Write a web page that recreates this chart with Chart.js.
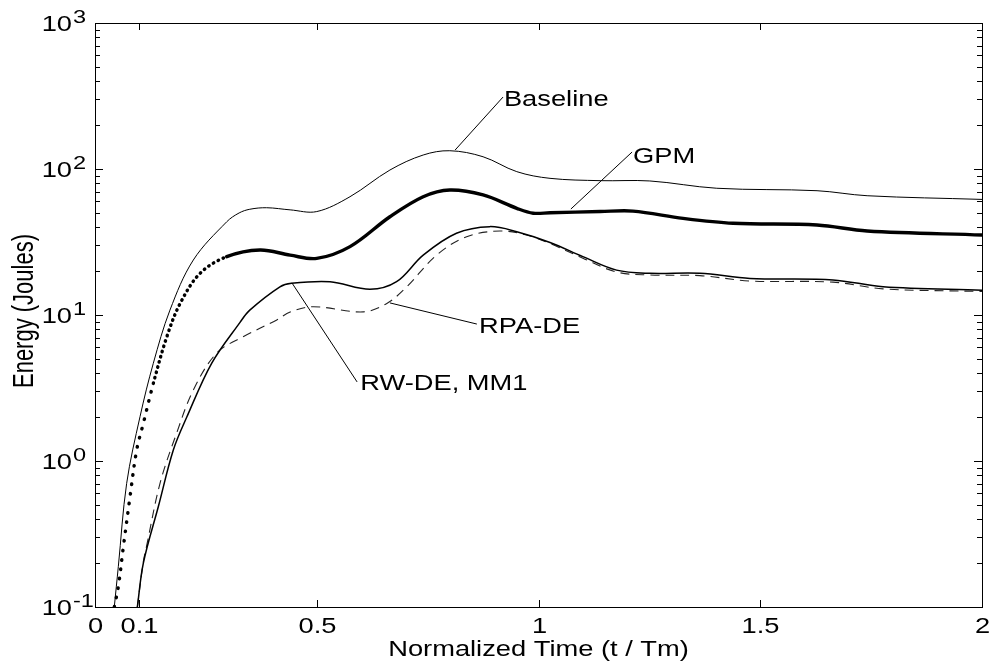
<!DOCTYPE html>
<html>
<head>
<meta charset="utf-8">
<title>Energy vs normalized time</title>
<script src="https://cdn.jsdelivr.net/npm/chart.js@4.4.1/dist/chart.umd.min.js"></script>
<style>
  body { margin: 0; background: #fff; }
  canvas { display: block; }
</style>
</head>
<body>
<canvas id="energyChart" width="992" height="669"></canvas>
<script>
// values (t / Tm, Joules)
const baselineT = [0.0435, 0.0526, 0.0714, 0.1015, 0.1315, 0.169, 0.2217, 0.297, 0.325, 0.349, 0.387, 0.44, 0.5, 0.575, 0.665, 0.74, 0.80, 0.875, 0.951, 1.026, 1.139, 1.251, 1.402, 1.628, 1.741, 2.0];
const baselineE = [0.1, 0.189, 0.703, 2.01, 4.67, 10.8, 23.8, 43.5, 50.0, 53.0, 54.3, 52.5, 51.1, 64.6, 98.4, 124.7, 133.4, 121.3, 95.9, 86.3, 83.2, 82.8, 73.8, 71.0, 65.6, 61.9];

const gpmT = [0.0435, 0.0526, 0.064, 0.079, 0.094, 0.109, 0.1315, 0.162, 0.192, 0.237, 0.297, 0.372, 0.44, 0.5, 0.575, 0.665, 0.74, 0.80, 0.875, 0.951, 0.988, 1.026, 1.139, 1.213, 1.326, 1.439, 1.628, 1.741, 2.0];
const gpmE = [0.1, 0.138, 0.259, 0.570, 1.19, 1.81, 3.40, 7.10, 12.0, 19.3, 25.1, 27.9, 25.7, 24.4, 29.4, 47.1, 64.6, 71.8, 66.4, 53.8, 49.8, 50.2, 51.1, 51.5, 45.9, 42.5, 41.3, 37.6, 35.3];

const rwdeT = [0.0955, 0.109, 0.143, 0.1766, 0.207, 0.263, 0.327, 0.349, 0.417, 0.443, 0.53, 0.62, 0.68, 0.74, 0.815, 0.89, 0.951, 1.026, 1.1, 1.176, 1.251, 1.364, 1.477, 1.664, 1.777, 2.0];
const rwdeE = [0.1, 0.20, 0.49, 1.19, 2.0, 4.67, 8.91, 10.8, 15.6, 16.5, 16.9, 15.0, 16.9, 25.7, 36.3, 40.3, 37.2, 31.4, 25.1, 20.3, 19.3, 19.3, 17.8, 17.4, 15.6, 14.8];

const rpaT = [0.0955, 0.109, 0.1165, 0.1466, 0.184, 0.2217, 0.274, 0.334, 0.41, 0.44, 0.492, 0.605, 0.658, 0.703, 0.77, 0.838, 0.913, 0.973, 1.026, 1.1, 1.176, 1.251, 1.364, 1.477, 1.664, 1.777, 2.0];
const rpaE = [0.1, 0.205, 0.263, 0.703, 1.55, 3.06, 5.47, 7.10, 9.25, 10.5, 11.4, 10.5, 12.0, 15.6, 25.7, 34.4, 37.6, 35.3, 30.9, 24.5, 19.7, 18.8, 18.6, 17.1, 16.8, 15.1, 14.5];

// axis ticks
const xTicks = [0, 0.1, 0.5, 1, 1.5, 2];
const xTickLabels = ['0', '0.1', '0.5', '1', '1.5', '2'];
const yDecades = [-1, 0, 1, 2, 3];

// callout labels: [text, line start t, line start E, line end t, line end E, text t, text E]
const callouts = [
    ['Baseline', 0.812, 134.9, 0.92, 311, 0.922, 270],
    ['GPM', 1.073, 53.2, 1.211, 130.7, 1.213, 110],
    ['RPA-DE', 0.665, 12.1, 0.861, 8.67, 0.866, 7.53],
    ['RW-DE, MM1', 0.444, 16.6, 0.591, 3.48, 0.598, 3.06]
];

const FONT = '"Liberation Sans", Arial, Helvetica, sans-serif';
const STRETCH = 1.24;  // figure text is wider than normal Helvetica

function toPoints(ts, es) {
    return ts.map((t, i) => ({ x: t, y: es[i] }));
}

function drawText(ctx, text, x, y, size, align) {
    ctx.save();
    ctx.font = size + 'px ' + FONT;
    ctx.translate(x, y);
    ctx.scale(STRETCH, 1);
    ctx.textAlign = align;
    ctx.textBaseline = 'alphabetic';
    ctx.fillText(text, 0, 0);
    ctx.restore();
}

function seg(ctx, x1, y1, x2, y2) {
    ctx.beginPath();
    ctx.moveTo(x1, y1);
    ctx.lineTo(x2, y2);
    ctx.stroke();
}

// MATLAB like box, inward ticks and labels
const axesPlugin = {
    id: 'matlabAxes',
    afterDraw(chart) {
        const { ctx, chartArea: a, scales: { x, y } } = chart;
        ctx.save();
        ctx.strokeStyle = '#000';
        ctx.fillStyle = '#000';
        ctx.lineWidth = 1;

        // callouts
        callouts.forEach(c => {
            seg(ctx, x.getPixelForValue(c[1]), y.getPixelForValue(c[2]),
                x.getPixelForValue(c[3]), y.getPixelForValue(c[4]));
            drawText(ctx, c[0], x.getPixelForValue(c[5]), y.getPixelForValue(c[6]), 22, 'left');
        });

        ctx.strokeRect(Math.round(a.left) + 0.5, Math.round(a.top) + 0.5,
            Math.round(a.right - a.left), Math.round(a.bottom - a.top));

        xTicks.forEach((v, i) => {
            const px = Math.round(x.getPixelForValue(v)) + 0.5;
            seg(ctx, px, a.bottom, px, a.bottom - 7);
            seg(ctx, px, a.top, px, a.top + 7);
            drawText(ctx, xTickLabels[i], px, a.bottom + 26, 22, 'center');
        });

        yDecades.forEach(d => {
            for (let m = 1; m <= 9; m++) {
                const v = m * Math.pow(10, d);
                if (v > 1000.0001) break;
                const py = Math.round(y.getPixelForValue(v)) + 0.5;
                const len = m === 1 ? 8 : 5;
                seg(ctx, a.left, py, a.left + len, py);
                seg(ctx, a.right, py, a.right - len, py);
            }
            const py = y.getPixelForValue(Math.pow(10, d));
            const xr = a.left - 23;
            drawText(ctx, '10', xr, py + 8, 22, 'right');
            drawText(ctx, String(d), xr + 1, py, 19, 'left');
        });

        // axis titles
        drawText(ctx, 'Normalized Time (t / Tm)', (a.left + a.right) / 2, a.bottom + 49, 22, 'center');
        ctx.save();
        ctx.translate(33, (a.top + a.bottom) / 2 - 4);
        ctx.rotate(-Math.PI / 2);
        ctx.scale(1, 1.3);
        ctx.font = '22px ' + FONT;
        ctx.textAlign = 'center';
        ctx.fillText('Energy (Joules)', 0, 0);
        ctx.restore();

        ctx.restore();
    }
};

const ctx = document.getElementById('energyChart').getContext('2d');
new Chart(ctx, {
    type: 'line',
    data: {
        datasets: [
            {
                label: 'Baseline',
                data: toPoints(baselineT, baselineE),
                borderColor: '#000',
                borderWidth: 1
            },
            {
                label: 'GPM',
                data: toPoints(gpmT, gpmE),
                borderColor: '#000',
                borderWidth: 3.4,
                borderCapStyle: 'round',
                segment: {
                    // dotted look where the solver output is sparse
                    borderDash: c => c.p0.parsed.x < 0.13 ? [0.5, 9] : (c.p0.parsed.x < 0.24 ? [0.5, 5] : undefined)
                }
            },
            {
                label: 'RW-DE, MM1',
                data: toPoints(rwdeT, rwdeE),
                borderColor: '#000',
                borderWidth: 1.5
            },
            {
                label: 'RPA-DE',
                data: toPoints(rpaT, rpaE),
                borderColor: '#222',
                borderWidth: 1.1,
                borderDash: [9, 6]
            }
        ]
    },
    options: {
        responsive: false,
        animation: false,
        elements: {
            point: { radius: 0 },
            line: { tension: 0.35 }
        },
        layout: { padding: { left: 95, top: 23, right: 10, bottom: 62 } },
        plugins: {
            legend: { display: false },
            tooltip: { enabled: false }
        },
        scales: {
            x: { type: 'linear', min: 0, max: 2, display: false },
            y: { type: 'logarithmic', min: 0.1, max: 1000, display: false }
        }
    },
    plugins: [axesPlugin]
});
</script>
</body>
</html>
